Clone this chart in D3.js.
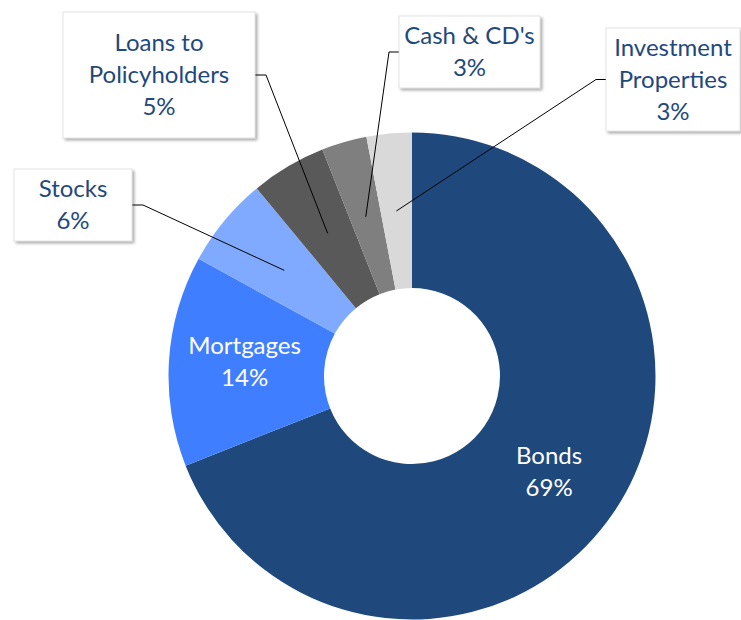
<!DOCTYPE html>
<html><head><meta charset="utf-8">
<script src="https://cdn.jsdelivr.net/npm/d3@7"></script>
<style>body{margin:0;background:#fff}svg{display:block}</style>
</head><body>
<svg id="c" width="741" height="620"></svg>
<script>
const categories = ["Bonds","Mortgages","Stocks","Loans to Policyholders","Cash & CD's","Investment Properties"];
const values = [69,14,6,5,3,3];
const colors = ["#1F497D","#3F7FFF","#7FAAFF","#595959","#7F7F7F","#D9D9D9"];
const labelLines = [["Bonds"],["Mortgages"],["Stocks"],["Loans to","Policyholders"],["Cash & CD's"],["Investment","Properties"]];

const svg = d3.select("#c");
const cx = 412, cy = 376, R = 243.5, r0 = 88;
const FONT = "Lato, 'Open Sans', sans-serif";
const fs = 24, lh = 32;

const defs = svg.append("defs");
const f = defs.append("filter").attr("id","sh").attr("x","-10%").attr("y","-10%").attr("width","130%").attr("height","130%");
f.append("feDropShadow").attr("dx",2).attr("dy",2).attr("stdDeviation",1.6).attr("flood-color","#000").attr("flood-opacity",0.35);

const g = svg.append("g").attr("transform",`translate(${cx},${cy})`);
const pie = d3.pie().sort(null).value(d=>d)(values);
const arc = d3.arc().innerRadius(r0).outerRadius(R);
g.selectAll("path").data(pie).join("path").attr("d",arc).attr("fill",(d,i)=>colors[i]);

// inside labels (slightly shifted from centroid as in the original)
const insideShift = {0:[0,10.5],1:[-2,4.5]};
[0,1].forEach(i=>{
  const [x0,y0] = arc.centroid(pie[i]);
  const x = x0 + insideShift[i][0], y = y0 + insideShift[i][1];
  const t = g.append("text").attr("text-anchor","middle").attr("fill","#fff")
    .style("font-family",FONT).style("font-size",fs+"px");
  const lines = [...labelLines[i], values[i]+"%"];
  lines.forEach((s,k)=>t.append("tspan").attr("x",x).attr("y",y + (k-(lines.length-1)/2)*lh).text(s));
});

// callout boxes (positions in svg coords)
const boxes = {
  2:{x0:14,y0:169,x1:132,y1:241,side:"right"},
  3:{x0:63,y0:12,x1:255,y1:138,side:"right"},
  4:{x0:399,y0:16,x1:540,y1:88,side:"left"},
  5:{x0:606,y0:28,x1:740,y1:131,side:"left"}
};
Object.keys(boxes).forEach(k=>{
  const i=+k, b=boxes[k];
  const [ex,ey] = arc.centroid(pie[i]);
  const px = ex+cx, py = ey+cy;
  const my = (b.y0+b.y1)/2;
  const bx = b.side==="right"? b.x1 : b.x0;
  const kx = b.side==="right"? bx+11 : bx-10;
  svg.append("polyline").attr("points",`${bx},${my} ${kx},${my} ${px},${py}`)
    .attr("fill","none").attr("stroke","#000").attr("stroke-width",1);
  svg.append("rect").attr("x",b.x0).attr("y",b.y0).attr("width",b.x1-b.x0).attr("height",b.y1-b.y0)
    .attr("fill","#fff").attr("stroke","#d0d0d0").attr("stroke-width",0.6).attr("filter","url(#sh)");
  const lines=[...labelLines[i], values[i]+"%"];
  const t = svg.append("text").attr("text-anchor","middle").attr("fill","#1F497D")
    .style("font-family",FONT).style("font-size",fs+"px");
  const mx=(b.x0+b.x1)/2;
  lines.forEach((s,j)=>t.append("tspan").attr("x",mx).attr("y",my+8+(j-(lines.length-1)/2)*lh).text(s));
});
</script>
</body></html>
